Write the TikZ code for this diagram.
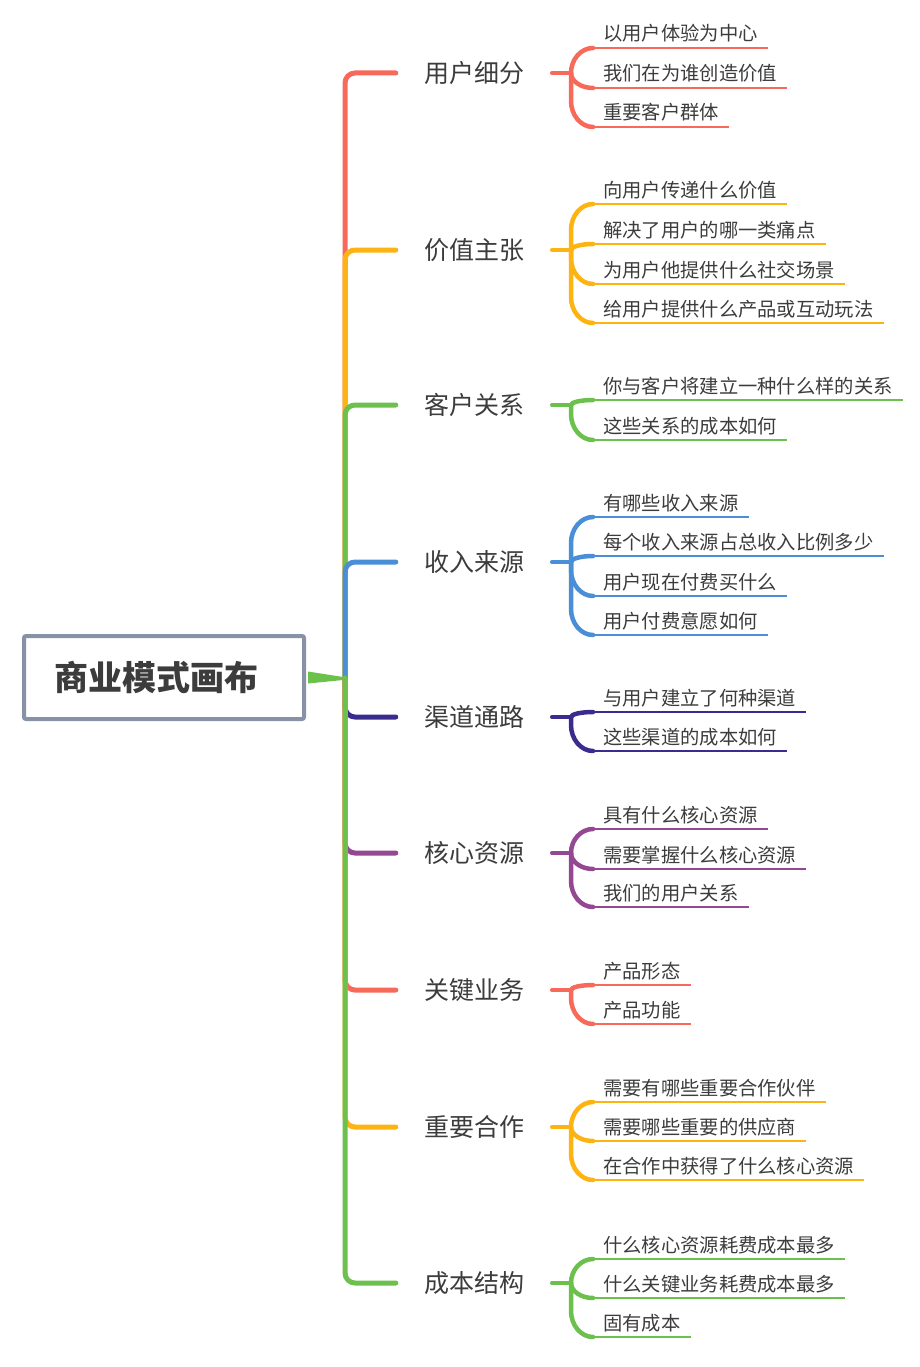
\documentclass[tikz,border=0pt]{standalone}
\usepackage{fontspec}
\newfontfamily\cjk{Noto Sans CJK SC}
\usetikzlibrary{calc}
\definecolor{cred}{RGB}{247,106,90}
\definecolor{corange}{RGB}{253,180,18}
\definecolor{cgreen}{RGB}{108,192,76}
\definecolor{cblue}{RGB}{74,142,216}
\definecolor{cpurple}{RGB}{58,44,142}
\definecolor{cmagenta}{RGB}{148,72,146}
\definecolor{rootborder}{RGB}{136,146,166}
\definecolor{txt}{RGB}{60,60,60}
\tikzset{
  rootbox/.style={draw=rootborder, line width=4pt, rounded corners=2pt, minimum width=280pt, minimum height=83pt, fill=white, text=txt, font=\cjk\bfseries\fontsize{34pt}{40pt}\selectfont, inner sep=0pt},
  lbl/.style={text=txt, font=\cjk\fontsize{25pt}{30pt}\selectfont, inner xsep=28pt, inner ysep=0pt},
  kidtext/.style={text=txt, font=\cjk\fontsize{19.3pt}{23pt}\selectfont, inner sep=0pt},
  trunk/.style={line width=5pt, line cap=round, rounded corners=10pt},
  brace/.style={line width=4.5pt, line cap=round},
  uline/.style={line width=1.8pt},
}
% #1 name, #2 y, #3 text
\newcommand\branchnode[3]{%
  \node[lbl] (#1) at (474,#2) {#3};
  \coordinate (#1-b) at (571,#2);
}
% #1 colour, #2 branch name, #3 branch y, #4 underline y, #5 name, #6 text
\newcommand\kidnode[6]{%
  \node[kidtext, anchor=base west] (#5) at (603,#4-7) {#6};
  \pgfmathsetmacro\kdd{abs(#4-#3)}
  \pgfmathsetmacro\krr{min(26,\kdd)}
  \pgfmathsetmacro\kyy{ifthenelse(#4>#3,#4-\krr,#4+\krr)}
  \pgfmathsetmacro\kcc{ifthenelse(#4>#3,#4-0.45*\krr,#4+0.45*\krr)}
  \coordinate (#5-s) at (593,#4);
  \draw[#1, uline] (#5-s) -- ($(#5.east |- #5-s)+(10,0)$);
  \draw[#1, brace] (#2-b) -- (571,\kyy) .. controls (571,\kcc) and (581,#4) .. (#5-s);
}
\begin{document}
\begin{tikzpicture}[x=1pt,y=-1pt]
\useasboundingbox (0,0) rectangle (920,1367);
\coordinate (hub) at (345,678);

% branch labels
\branchnode{b1}{73}{用户细分}
\branchnode{b2}{250}{价值主张}
\branchnode{b3}{405}{客户关系}
\branchnode{b4}{562}{收入来源}
\branchnode{b5}{717}{渠道通路}
\branchnode{b6}{853}{核心资源}
\branchnode{b7}{990}{关键业务}
\branchnode{b8}{1127}{重要合作}
\branchnode{b9}{1283}{成本结构}

% trunk connectors
\draw[cred, trunk] (hub) |- (b1.west);
\draw[corange, trunk] (hub) |- (b2.west);
\draw[cgreen, trunk] (hub) |- (b3.west);
\draw[cblue, trunk] (hub) |- (b4.west);
\draw[cpurple, trunk] (hub) |- (b5.west);
\draw[cmagenta, trunk] (hub) |- (b6.west);
\draw[cred, trunk] (hub) |- (b7.west);
\draw[corange, trunk] (hub) |- (b8.west);
\draw[cgreen, trunk] (hub) |- (b9.west);

% root
\node[rootbox] (root) at (164,677.5) {\hspace*{-15pt}商业模式画布};
\fill[cgreen] ([xshift=2pt,yshift=6pt]root.east) -- ([xshift=-2pt,yshift=1pt]hub) -- ([xshift=-2pt,yshift=-2pt]hub) -- ([xshift=2pt,yshift=-6pt]root.east) -- cycle;

% stubs
\draw[cred, brace] (b1.east) -- (b1-b);
\draw[corange, brace] (b2.east) -- (b2-b);
\draw[cgreen, brace] (b3.east) -- (b3-b);
\draw[cblue, brace] (b4.east) -- (b4-b);
\draw[cpurple, brace] (b5.east) -- (b5-b);
\draw[cmagenta, brace] (b6.east) -- (b6-b);
\draw[cred, brace] (b7.east) -- (b7-b);
\draw[corange, brace] (b8.east) -- (b8-b);
\draw[cgreen, brace] (b9.east) -- (b9-b);

% children
\kidnode{cred}{b1}{73}{48}{k11}{以用户体验为中心}
\kidnode{cred}{b1}{73}{88}{k12}{我们在为谁创造价值}
\kidnode{cred}{b1}{73}{127}{k13}{重要客户群体}

\kidnode{corange}{b2}{250}{204}{k21}{向用户传递什么价值}
\kidnode{corange}{b2}{250}{244}{k22}{解决了用户的哪一类痛点}
\kidnode{corange}{b2}{250}{284}{k23}{为用户他提供什么社交场景}
\kidnode{corange}{b2}{250}{323}{k24}{给用户提供什么产品或互动玩法}

\kidnode{cgreen}{b3}{405}{400}{k31}{你与客户将建立一种什么样的关系}
\kidnode{cgreen}{b3}{405}{440}{k32}{这些关系的成本如何}

\kidnode{cblue}{b4}{562}{517}{k41}{有哪些收入来源}
\kidnode{cblue}{b4}{562}{556}{k42}{每个收入来源占总收入比例多少}
\kidnode{cblue}{b4}{562}{596}{k43}{用户现在付费买什么}
\kidnode{cblue}{b4}{562}{635}{k44}{用户付费意愿如何}

\kidnode{cpurple}{b5}{717}{712}{k51}{与用户建立了何种渠道}
\kidnode{cpurple}{b5}{717}{751}{k52}{这些渠道的成本如何}

\kidnode{cmagenta}{b6}{853}{829}{k61}{具有什么核心资源}
\kidnode{cmagenta}{b6}{853}{869}{k62}{需要掌握什么核心资源}
\kidnode{cmagenta}{b6}{853}{907}{k63}{我们的用户关系}

\kidnode{cred}{b7}{990}{985}{k71}{产品形态}
\kidnode{cred}{b7}{990}{1024}{k72}{产品功能}

\kidnode{corange}{b8}{1127}{1102}{k81}{需要有哪些重要合作伙伴}
\kidnode{corange}{b8}{1127}{1141}{k82}{需要哪些重要的供应商}
\kidnode{corange}{b8}{1127}{1180}{k83}{在合作中获得了什么核心资源}

\kidnode{cgreen}{b9}{1283}{1259}{k91}{什么核心资源耗费成本最多}
\kidnode{cgreen}{b9}{1283}{1298}{k92}{什么关键业务耗费成本最多}
\kidnode{cgreen}{b9}{1283}{1337}{k93}{固有成本}
\end{tikzpicture}
\end{document}
